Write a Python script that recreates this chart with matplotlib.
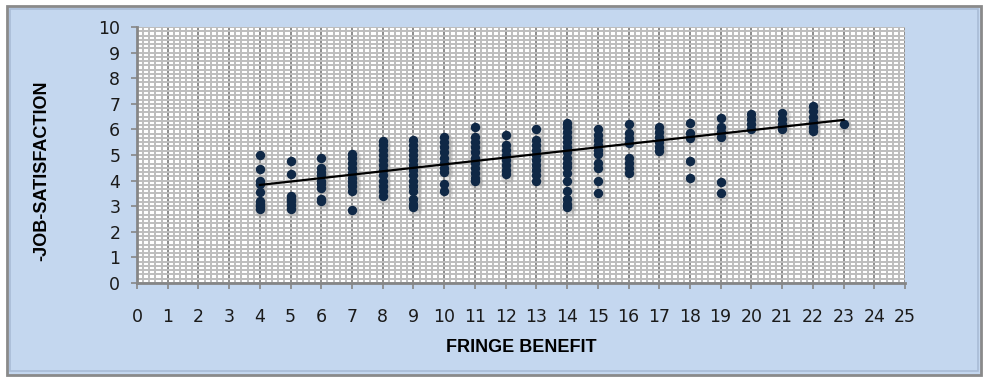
import numpy as np
import matplotlib
matplotlib.use("Agg")
import matplotlib.pyplot as plt
from matplotlib.patches import Rectangle
from matplotlib.ticker import MultipleLocator
import matplotlib.transforms as mtransforms

# fringe benefit score -> job satisfaction scores
fringe = [4, 5, 6, 7, 8, 9, 10, 11, 12, 13, 14, 15, 16, 17, 18, 19, 20, 21, 22, 23]
satisfaction = [
    [5.0, 4.45, 4.0, 3.85, 3.55, 3.2, 3.1, 3.0, 2.9],
    [4.75, 4.25, 3.4, 3.3, 3.2, 3.05, 2.9],
    [4.9, 4.5, 4.35, 4.2, 4.0, 3.85, 3.7, 3.3, 3.2],
    [5.05, 4.9, 4.7, 4.5, 4.3, 4.1, 3.95, 3.8, 3.6, 2.85],
    [5.55, 5.4, 5.2, 5.0, 4.8, 4.6, 4.4, 4.2, 4.0, 3.8, 3.6, 3.4],
    [5.6, 5.4, 5.2, 5.0, 4.8, 4.6, 4.4, 4.2, 4.0, 3.8, 3.6, 3.3, 3.1, 2.95],
    [5.7, 5.5, 5.3, 5.1, 4.9, 4.7, 4.5, 4.35, 3.85, 3.6],
    [6.1, 5.7, 5.5, 5.3, 5.1, 4.9, 4.7, 4.5, 4.3, 4.1, 4.0],
    [5.8, 5.4, 5.2, 5.0, 4.8, 4.6, 4.4, 4.25],
    [6.0, 5.6, 5.4, 5.2, 5.0, 4.8, 4.6, 4.4, 4.2, 4.0],
    [6.25, 6.1, 5.9, 5.7, 5.5, 5.3, 5.1, 4.9, 4.7, 4.55, 4.3, 4.0, 3.6, 3.3, 3.1, 2.95],
    [6.0, 5.8, 5.6, 5.4, 5.2, 5.05, 4.7, 4.5, 4.0, 3.5],
    [6.2, 5.85, 5.65, 5.45, 4.9, 4.7, 4.5, 4.3],
    [6.1, 5.9, 5.7, 5.5, 5.3, 5.15],
    [6.25, 5.85, 5.65, 4.75, 4.1],
    [6.45, 6.1, 5.9, 5.7, 3.95, 3.5],
    [6.6, 6.4, 6.2, 6.0],
    [6.65, 6.4, 6.2, 6.0],
    [6.9, 6.7, 6.5, 6.3, 6.1, 5.95],
    [6.2],
]
# linear trend line as shown (start, end)
trend_x = [4, 23]
trend_y = [3.83, 6.37]

xs = np.concatenate([[f] * len(v) for f, v in zip(fringe, satisfaction)])
ys = np.concatenate(satisfaction)

fig = plt.figure(figsize=(9.85, 3.79), dpi=100)
fig.patch.set_facecolor("white")

# chart area frame
fig.add_artist(Rectangle((7 / 985, 4 / 379), 974 / 985, 369 / 379,
                         transform=fig.transFigure, facecolor="#c4d7ef",
                         edgecolor="#8a8a8a", linewidth=2, zorder=-2))
fig.add_artist(Rectangle((10 / 985, 8 / 379), 968 / 985, 362 / 379,
                         transform=fig.transFigure, facecolor="none",
                         edgecolor="#a9bcd6", linewidth=1.2, zorder=-1))

ax = fig.add_axes([137 / 985, 96 / 379, 768 / 985, 256 / 379])
ax.set_facecolor("white")
ax.set_xlim(0, 25)
ax.set_ylim(0, 10)
ax.xaxis.set_major_locator(MultipleLocator(1))
ax.xaxis.set_minor_locator(MultipleLocator(0.2))
ax.yaxis.set_major_locator(MultipleLocator(1))
ax.yaxis.set_minor_locator(MultipleLocator(1 / 6))

ax.grid(which="minor", color="#bdbdbd", linewidth=1.4)
ax.grid(which="major", axis="y", color="#bdbdbd", linewidth=1.4)
ax.grid(which="major", axis="x", color="#8c8c8c", linewidth=1.4)
ax.set_axisbelow(True)

for side in ["top", "right"]:
    ax.spines[side].set_visible(False)
for side in ["left", "bottom"]:
    ax.spines[side].set_color("#868686")
    ax.spines[side].set_linewidth(2)

ax.tick_params(which="minor", length=0)
ax.tick_params(which="major", length=4, width=1.2, color="#868686",
               labelsize=12.5, labelcolor="#1a1a1a")
ax.tick_params(axis="x", pad=14)
ax.tick_params(axis="y", pad=8)

# soft shadow under the markers
shadow = mtransforms.offset_copy(ax.transData, fig=fig, x=1.5, y=-2.5, units="dots")
ax.scatter(xs, ys, s=95, color="#9a9a9a", alpha=0.25, linewidths=0,
           transform=shadow, zorder=2)
ax.scatter(xs, ys, s=46, color="#0f2846", linewidths=0, zorder=3)
ax.plot(trend_x, trend_y, color="black", linewidth=1.6, zorder=4)

title_font = dict(family=["Liberation Sans", "DejaVu Sans"], weight="bold",
                  size=13, color="black")
ax.set_xlabel("FRINGE BENEFIT", labelpad=9, **title_font)
ax.set_ylabel("-JOB-SATISFACTION", **title_font)
ax.yaxis.set_label_coords(-0.113, 0.44)

fig.savefig("out.png", dpi=100)
